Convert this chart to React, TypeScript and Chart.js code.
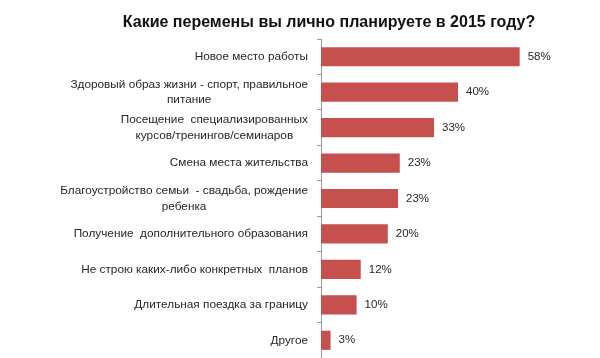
import React, { useEffect, useRef } from "react";
import { Chart, registerables } from "chart.js";

Chart.register(...registerables);

const TITLE = "Какие перемены вы лично планируете в 2015 году?";

const categories: string[][] = [
  ["Новое место работы"],
  ["Здоровый образ жизни - спорт, правильное", "питание"],
  ["Посещение  специализированных", "курсов/тренингов/семинаров"],
  ["Смена места жительства"],
  ["Благоустройство семьи  - свадьба, рождение", "ребенка"],
  ["Получение  дополнительного образования"],
  ["Не строю каких-либо конкретных  планов"],
  ["Длительная поездка за границу"],
  ["Другое"],
];

const values: number[] = [58, 40, 33, 23, 22.5, 19.5, 11.6, 10.4, 2.8];

const valueLabels: string[] = ["58%", "40%", "33%", "23%", "23%", "20%", "12%", "10%", "3%"];

const FONT = '"Liberation Sans", Arial, sans-serif';

const textPlugin = {
  id: "textPlugin",
  afterDraw(chart: any) {
    const ctx = chart.ctx;
    const area = chart.chartArea;
    const yScale = chart.scales.y;
    ctx.save();
    // title
    ctx.font = `bold 16px ${FONT}`;
    ctx.fillStyle = "#111111";
    ctx.textAlign = "center";
    ctx.textBaseline = "middle";
    ctx.fillText(TITLE, 329, 23);

    // category labels
    ctx.font = `11.8px ${FONT}`;
    ctx.fillStyle = "#262626";
    const lineH = 15.5;
    categories.forEach((lines, i) => {
      const y = yScale.getPixelForValue(i);
      let maxW = 0;
      lines.forEach((l) => {
        maxW = Math.max(maxW, ctx.measureText(l).width);
      });
      const cx = area.left - 13 - maxW / 2;
      lines.forEach((l, j) => {
        ctx.fillText(l, cx, y + (j - (lines.length - 1) / 2) * lineH);
      });
    });

    // value labels
    ctx.font = `11.5px ${FONT}`;
    ctx.textAlign = "left";
    const meta = chart.getDatasetMeta(0);
    meta.data.forEach((bar: any, i: number) => {
      ctx.fillText(valueLabels[i], bar.x + 8, bar.y);
    });
    ctx.restore();
  },
};

export default function App() {
  const ref = useRef<HTMLCanvasElement | null>(null);
  useEffect(() => {
    if (!ref.current) return;
    const chart = new Chart(ref.current, {
      type: "bar",
      data: {
        labels: categories.map((c) => c.join(" ")),
        datasets: [
          {
            data: values,
            backgroundColor: "#C6504E",
            borderWidth: 0,
            barPercentage: 0.54,
            categoryPercentage: 1,
          },
        ],
      },
      options: {
        indexAxis: "y",
        animation: false,
        responsive: false,
        maintainAspectRatio: false,
        layout: { padding: { left: 317, top: 39, right: 5, bottom: 0 } },
        plugins: {
          legend: { display: false },
          title: { display: false },
          tooltip: { enabled: false },
        },
        scales: {
          x: { display: false, min: 0, max: 80 },
          y: {
            display: true,
            ticks: { display: false },
            grid: {
              display: true,
              drawOnChartArea: false,
              drawTicks: true,
              tickLength: 4,
              offset: true,
              color: "#9a9a9a",
            },
            border: { display: true, color: "#9a9a9a", width: 1 },
          },
        },
      },
      plugins: [textPlugin],
    });
    return () => chart.destroy();
  }, []);
  return (
    <div style={{ position: "fixed", left: 0, top: 0, width: 600, height: 358, background: "#fff" }}>
      <canvas ref={ref} width={600} height={358} />
    </div>
  );
}
